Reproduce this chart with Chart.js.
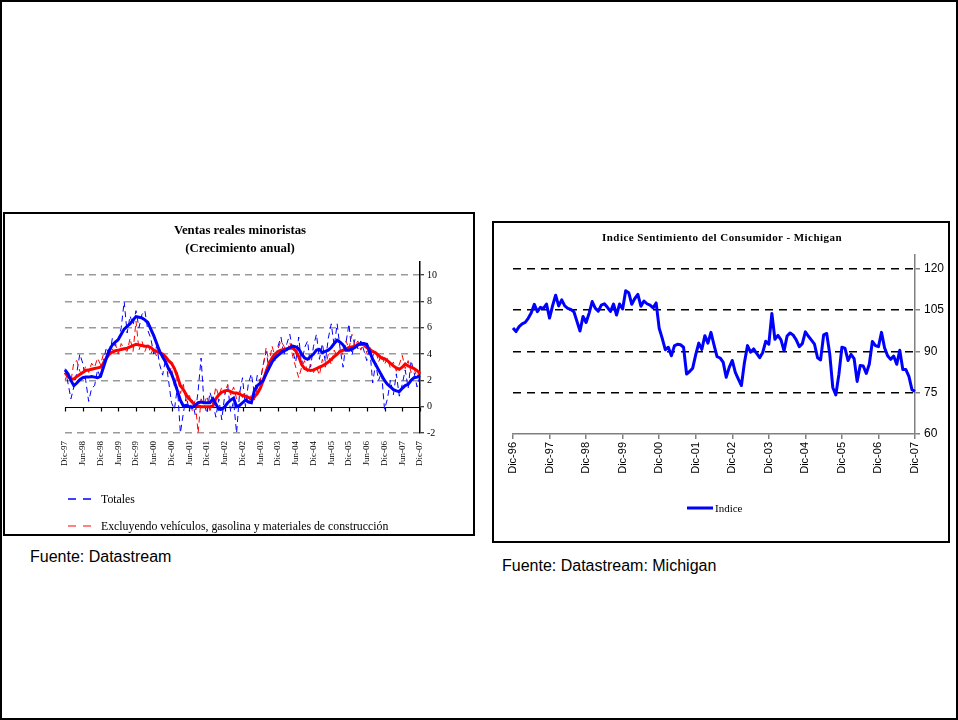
<!DOCTYPE html>
<html><head><meta charset="utf-8">
<script src="https://cdn.jsdelivr.net/npm/chart.js@4/dist/chart.umd.min.js"></script>
<style>
html,body{margin:0;padding:0;background:#fff;}
#page{position:relative;width:958px;height:720px;overflow:hidden;background:#fff;}
#frame{position:absolute;left:0;top:0;width:958px;height:720px;box-sizing:border-box;border:2px solid #000;}
.box{position:absolute;box-sizing:border-box;border:2px solid #000;}
canvas{position:absolute;}
.t{position:absolute;white-space:nowrap;color:#000;}
.serif{font-family:"Liberation Serif","Times New Roman",serif;}
.sans{font-family:"Liberation Sans",Arial,sans-serif;}
</style></head>
<body><div id="page">
<div id="frame"></div>
<div class="box" style="left:3px;top:212px;width:472px;height:324px;"></div>
<div class="box" style="left:492px;top:221px;width:458px;height:322px;"></div>
<canvas id="c1" width="468" height="320" style="left:5px;top:214px;"></canvas>
<canvas id="c2" width="454" height="318" style="left:494px;top:223px;"></canvas>

<div class="t serif" style="left:90px;width:300px;top:222px;line-height:16px;text-align:center;font-size:12.8px;font-weight:bold;">Ventas reales minoristas</div>
<div class="t serif" style="left:90px;width:300px;top:240px;line-height:16px;text-align:center;font-size:12.8px;font-weight:bold;">(Crecimiento anual)</div>
<div class="t serif" style="left:572px;width:300px;top:229px;line-height:16px;text-align:center;font-size:11px;font-weight:bold;letter-spacing:0.45px;">Indice Sentimiento del Consumidor - Michigan</div>

<svg style="position:absolute;left:66px;top:494px;" width="30" height="36">
 <line x1="2" y1="5" x2="27" y2="5" stroke="#0000ff" stroke-width="1.5" stroke-dasharray="8,7"/>
 <line x1="2" y1="32" x2="27" y2="32" stroke="#ff5a5a" stroke-width="1.5" stroke-dasharray="8,7"/>
</svg>
<div class="t serif" style="left:101px;top:491px;line-height:16px;font-size:11.8px;">Totales</div>
<div class="t serif" style="left:101px;top:518px;line-height:16px;font-size:11.8px;">Excluyendo vehículos, gasolina y materiales de construcción</div>

<svg style="position:absolute;left:686px;top:504px;" width="28" height="8">
 <line x1="1" y1="4" x2="27" y2="4" stroke="#0000ff" stroke-width="3"/>
</svg>
<div class="t serif" style="left:715px;top:500px;line-height:16px;font-size:11px;">Indice</div>

<div class="t sans" style="left:30px;top:547px;line-height:20px;font-size:16px;">Fuente: Datastream</div>
<div class="t sans" style="left:502px;top:556px;line-height:20px;font-size:16px;">Fuente: Datastream: Michigan</div>
</div>
<script>
// ---------- Data: Ventas reales minoristas (monthly, Dic-97 .. Dic-07) ----------
const mesesAbrev = ['Ene','Feb','Mar','Abr','May','Jun','Jul','Ago','Sep','Oct','Nov','Dic'];
function monthLabels(startYear, count){ // starts in December of startYear
  const out = [];
  for (let i = 0; i < count; i++) {
    const mi = (11 + i) % 12;
    const yr = startYear + Math.floor((11 + i) / 12);
    out.push(mesesAbrev[mi] + '-' + String(yr % 100).padStart(2,'0'));
  }
  return out;
}
const meses1 = monthLabels(1997, 121);
const meses2 = monthLabels(1996, 133);

const totalesMensual = [
 2.9,1.8,0.6,1.5,2.6,4.0,3.3,2.0,0.4,1.4,
 1.6,2.8,2.2,3.5,4.5,3.8,5.2,4.6,5.0,6.0,
 8.0,5.6,6.9,6.2,7.3,6.0,7.0,7.3,5.8,5.2,
 4.0,4.6,3.2,2.4,3.6,2.0,0.3,-0.2,1.5,-2.0,
 -0.5,0.8,-0.3,0.5,-0.6,1.2,3.7,0.2,-0.5,1.1,
 0.3,-0.8,0.6,-1.0,0.9,1.6,-0.4,0.4,-2.0,1.0,
 2.2,0.0,1.8,2.5,1.0,2.4,1.9,3.2,4.2,2.8,
 4.0,3.5,4.6,5.3,3.9,4.8,5.5,4.2,3.4,5.3,
 3.2,4.5,5.0,3.0,4.6,5.5,3.6,4.8,3.4,5.2,
 6.3,4.6,6.3,4.4,3.0,4.9,6.3,3.9,5.1,4.4,
 5.0,4.3,3.5,4.5,1.8,3.3,2.0,2.6,-0.2,0.6,
 2.0,0.9,2.5,0.8,1.7,2.8,1.4,3.5,2.6,1.5,2.4
];
const totalesTendencia = [
 2.8,2.5,2.0,1.6,1.8,2.05,2.2,2.25,2.25,2.3,
 2.25,2.2,2.3,3.0,3.7,4.3,4.7,4.9,5.1,5.5,
 5.9,6.1,6.3,6.6,6.85,6.8,6.75,6.6,6.4,5.9,
 5.4,4.8,4.2,3.8,3.4,2.9,2.5,1.9,1.2,0.5,
 0.05,0.1,0.0,-0.05,0.1,0.3,0.35,0.3,0.3,0.3,
 0.6,0.2,-0.2,-0.2,0.0,0.3,0.5,0.65,0.0,0.1,
 0.3,0.5,0.35,0.3,1.2,1.6,1.8,2.0,2.5,2.95,
 3.4,3.7,3.9,4.1,4.25,4.35,4.5,4.6,4.55,4.4,
 4.0,3.7,3.6,3.8,4.0,4.3,4.35,4.1,4.2,4.3,
 4.5,4.8,5.05,4.9,4.7,4.3,4.3,4.4,4.5,4.7,
 4.8,4.8,4.75,4.2,3.6,3.2,2.8,2.4,2.0,1.7,
 1.5,1.3,1.2,1.15,1.4,1.6,1.7,2.0,2.2,2.25,2.35
];
const excluyendoMensual = [
 2.0,2.6,1.9,3.4,3.5,2.7,2.4,3.1,2.6,3.3,
 3.0,3.7,3.2,4.0,3.9,4.6,4.3,4.8,4.0,4.8,
 4.4,4.2,5.2,4.2,6.5,4.3,5.0,4.2,4.8,4.0,
 4.5,3.8,4.4,3.6,3.9,2.5,3.0,1.5,2.6,1.0,
 1.7,0.4,1.0,-0.3,0.5,-2.0,0.6,0.2,0.8,-0.3,
 0.3,1.5,0.8,1.5,1.0,1.7,0.9,1.5,0.6,1.2,
 0.7,1.1,0.3,0.9,0.5,1.4,2.0,3.1,4.5,3.3,
 4.6,3.8,4.4,5.0,4.6,4.2,4.9,3.8,3.0,2.2,
 3.0,3.5,2.6,3.2,2.6,3.0,2.4,3.6,3.0,4.0,
 3.2,4.3,3.8,4.5,3.9,5.0,4.4,5.5,4.6,5.0,
 4.3,4.9,4.1,4.6,3.8,4.3,3.4,4.0,3.2,3.7,
 2.9,3.4,2.7,3.2,3.9,2.9,3.5,2.6,2.9,2.2,2.8
];
const excluyendoTendencia = [
 2.6,2.3,2.1,2.1,2.3,2.45,2.6,2.75,2.8,2.85,
 2.9,2.95,3.0,3.3,3.7,4.0,4.15,4.25,4.3,4.35,
 4.4,4.45,4.55,4.65,4.75,4.7,4.65,4.6,4.6,4.5,
 4.3,4.2,4.1,4.0,3.8,3.5,3.3,2.9,2.3,1.6,
 1.3,0.9,0.6,0.35,0.15,0.05,0.0,0.0,0.0,0.0,
 0.05,0.6,0.9,1.1,1.2,1.25,1.15,1.05,1.05,0.95,
 0.85,0.8,0.7,0.6,0.75,1.0,1.4,2.0,2.7,3.3,
 3.7,4.0,4.2,4.3,4.35,4.4,4.45,4.45,4.25,3.8,
 3.2,2.9,2.8,2.75,2.8,2.9,3.0,3.1,3.25,3.4,
 3.6,3.8,4.0,4.2,4.3,4.4,4.5,4.55,4.6,4.7,
 4.75,4.7,4.5,4.35,4.2,4.1,3.9,3.7,3.65,3.5,
 3.3,3.1,2.95,2.85,3.0,3.25,3.1,3.0,2.9,2.75,2.5
];
const yTicksVentas = [-2,0,2,4,6,8,10];

// ---------- Data: Indice Sentimiento del Consumidor - Michigan (Dic-96 .. Dic-07) ----------
const indiceMichigan = [
 98.5,
 97.2,99.0,100.0,100.5,102.0,104.0,107.1,104.4,106.0,105.6,107.2,102.1,
 106.6,110.4,106.5,108.7,106.5,105.6,105.2,104.4,100.9,97.4,102.7,100.5,
 103.9,108.1,105.7,104.6,106.8,107.3,106.0,104.5,107.2,103.2,107.2,105.4,
 112.0,111.3,107.1,109.2,110.7,106.4,108.3,107.3,106.8,105.8,107.6,98.4,
 94.7,90.6,91.5,88.4,92.0,92.6,92.4,91.5,81.8,82.7,83.9,88.8,
 93.0,90.7,95.7,93.0,96.9,92.4,88.1,87.6,86.1,80.6,84.2,86.7,
 82.4,79.9,77.6,86.0,92.1,89.7,90.9,89.3,87.7,89.6,93.7,92.6,
 103.8,94.4,95.8,94.2,90.2,95.6,96.7,95.9,94.2,91.7,92.8,97.1,
 95.5,94.1,92.6,87.7,86.9,96.0,96.5,89.1,76.9,74.2,81.6,91.5,
 91.2,86.7,88.9,87.4,79.1,84.9,84.7,82.0,85.4,93.6,92.1,91.7,
 96.9,91.3,88.4,87.1,88.3,85.3,90.4,83.4,83.4,80.9,76.1,75.5
];
const yTicksIndice = [60,75,90,105,120];

// ---------- Chart 1 ----------
const zeroAxis = {
  id:'zeroAxis',
  beforeDatasetsDraw(chart){
    const {ctx, chartArea, scales:{x, y}} = chart;
    const y0 = Math.round(y.getPixelForValue(0)) + 0.5;
    ctx.save();
    ctx.strokeStyle = '#000'; ctx.lineWidth = 1.2;
    ctx.beginPath();
    ctx.moveTo(chartArea.left, y0); ctx.lineTo(chartArea.right, y0);
    x.ticks.forEach((t, i) => {
      const px = Math.round(x.getPixelForTick(i)) + 0.5;
      ctx.moveTo(px, y0); ctx.lineTo(px, y0 + 4);
    });
    ctx.stroke();
    ctx.restore();
  }
};

new Chart(document.getElementById('c1'), {
  type:'line',
  data:{
    labels: meses1,
    datasets:[
      {label:'Totales', data: totalesMensual, borderColor:'#0000ff', borderWidth:1, borderDash:[6,4], order:3},
      {label:'Excluyendo vehículos, gasolina y materiales de construcción', data: excluyendoMensual, borderColor:'#ff0000', borderWidth:1, borderDash:[6,4], order:2},
      {label:'Totales (tendencia)', data: totalesTendencia, borderColor:'#0000ff', borderWidth:3, order:0},
      {label:'Excluyendo (tendencia)', data: excluyendoTendencia, borderColor:'#ff0000', borderWidth:3, order:1}
    ]
  },
  options:{
    responsive:false, animation:false, devicePixelRatio:1,
    layout:{padding:{left:60, right:23, top:48, bottom:61}},
    plugins:{legend:{display:false}, tooltip:{enabled:false}, title:{display:false}},
    elements:{point:{radius:0}, line:{tension:0}},
    scales:{
      x:{
        type:'category', offset:false,
        grid:{display:false, drawTicks:false}, border:{display:false},
        afterBuildTicks: s => { s.ticks = s.ticks.filter(t => t.value % 6 === 0); },
        ticks:{autoSkip:false, maxRotation:90, minRotation:90, padding:8,
               font:{family:'Liberation Serif', size:9}, color:'#000'},
        afterFit: s => { s.height = 40; }
      },
      y:{
        position:'right', min:-2, max:11,
        afterBuildTicks: s => { s.ticks = yTicksVentas.map(v => ({value:v})); },
        grid:{color: c => (c.tick && c.tick.value === 0) ? 'rgba(0,0,0,0)' : '#9a9a9a',
              lineWidth:1.5, tickColor:'#000', tickLength:4, tickWidth:1},
        border:{display:true, color:'#000', width:1.5, dash:[7,5]},
        ticks:{padding:3, font:{family:'Liberation Serif', size:10}, color:'#000'},
        afterFit: s => { s.width = 30; }
      }
    }
  },
  plugins:[zeroAxis]
});

// ---------- Chart 2 ----------
new Chart(document.getElementById('c2'), {
  type:'line',
  data:{
    labels: meses2,
    datasets:[
      {label:'Indice', data: indiceMichigan, borderColor:'#0000ff', borderWidth:3}
    ]
  },
  options:{
    responsive:false, animation:false, devicePixelRatio:1,
    layout:{padding:{left:19, right:0, top:32, bottom:67}},
    plugins:{legend:{display:false}, tooltip:{enabled:false}, title:{display:false}},
    elements:{point:{radius:0}, line:{tension:0, borderJoinStyle:'round'}},
    scales:{
      x:{
        type:'category', offset:false,
        grid:{display:true, drawOnChartArea:false, color:'#808080', tickColor:'#808080', tickLength:5, lineWidth:1.5},
        border:{display:true, color:'#808080', width:1.5},
        afterBuildTicks: s => { s.ticks = s.ticks.filter(t => t.value % 12 === 0); },
        ticks:{autoSkip:false, maxRotation:90, minRotation:90, padding:3,
               font:{family:'Liberation Sans', size:11}, color:'#000'},
        afterFit: s => { s.height = 40; }
      },
      y:{
        position:'right', min:60, max:125,
        afterBuildTicks: s => { s.ticks = yTicksIndice.map(v => ({value:v})); },
        grid:{color: c => (c.tick && c.tick.value === 60) ? 'rgba(0,0,0,0)' : '#000',
              lineWidth:1.5, tickColor:'#808080', tickLength:5},
        border:{display:true, color:'#808080', width:1.5, dash:[8,6]},
        ticks:{padding:4, font:{family:'Liberation Sans', size:12}, color:'#000'},
        afterFit: s => { s.width = 33; }
      }
    }
  }
});
</script>
</body></html>
